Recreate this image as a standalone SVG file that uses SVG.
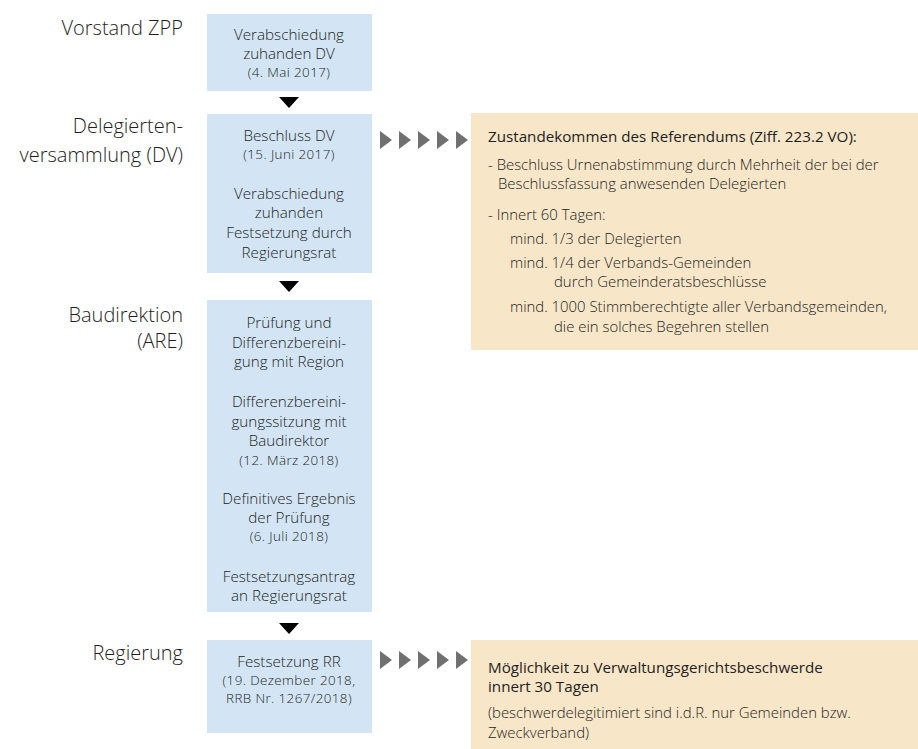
<svg xmlns="http://www.w3.org/2000/svg" width="918" height="749" viewBox="0 0 918 749">
<style>
text{font-family:"Open Sans","Noto Sans","DejaVu Sans",sans-serif;fill:#1e1e1e;font-weight:300}
.lab{font-size:20px;text-anchor:end}
.bx{font-size:15.2px;text-anchor:middle}
.sm{font-size:13.4px;text-anchor:middle;letter-spacing:0.4px}
.blue{fill:#d3e5f4}
.org{fill:#f8e6c8}
.ot{font-size:14.9px}
.oh{font-size:15.2px;font-weight:400}
.ga{fill:#707070}
</style>
<defs>
<polygon id="g" points="0,-9 12,0 0,9"/>
</defs>
<g id="lanes">
<text class="lab" x="183" y="35">Vorstand ZPP</text>
<text class="lab" x="183" y="133">Delegierten-</text>
<text class="lab" x="183" y="162">versammlung (DV)</text>
<text class="lab" x="183" y="322">Baudirektion</text>
<text class="lab" x="183" y="348">(ARE)</text>
<text class="lab" x="183" y="660">Regierung</text>
</g>
<g id="n1">
<rect class="blue" x="207" y="14" width="165" height="77"/>
<text class="bx" x="289" y="40">Verabschiedung</text>
<text class="bx" x="289" y="59">zuhanden DV</text>
<text class="sm" x="289" y="77">(4. Mai 2017)</text>
</g>
<g id="n2">
<rect class="blue" x="207" y="114" width="165" height="159"/>
<text class="bx" x="289" y="141">Beschluss DV</text>
<text class="sm" x="289" y="159">(15. Juni 2017)</text>
<text class="bx" x="289" y="199">Verabschiedung</text>
<text class="bx" x="289" y="218">zuhanden</text>
<text class="bx" x="289" y="238">Festsetzung durch</text>
<text class="bx" x="289" y="258">Regierungsrat</text>
</g>
<g id="n3">
<rect class="blue" x="207" y="300" width="165" height="312"/>
<text class="bx" x="289" y="328">Prüfung und</text>
<text class="bx" x="289" y="348">Differenzbereini-</text>
<text class="bx" x="289" y="367">gung mit Region</text>
<text class="bx" x="289" y="407">Differenzbereini-</text>
<text class="bx" x="289" y="427">gungssitzung mit</text>
<text class="bx" x="289" y="446">Baudirektor</text>
<text class="sm" x="289" y="465">(12. März 2018)</text>
<text class="bx" x="289" y="504">Definitives Ergebnis</text>
<text class="bx" x="289" y="523">der Prüfung</text>
<text class="sm" x="289" y="541">(6. Juli 2018)</text>
<text class="bx" x="289" y="582">Festsetzungsantrag</text>
<text class="bx" x="289" y="601">an Regierungsrat</text>
</g>
<g id="n4">
<rect class="blue" x="207" y="640" width="165" height="93"/>
<text class="bx" x="289" y="667">Festsetzung RR</text>
<text class="sm" x="289" y="685">(19. Dezember 2018,</text>
<text class="sm" x="289" y="703">RRB Nr. 1267/2018)</text>
</g>
<g id="n5">
<rect class="org" x="471" y="113" width="447" height="237"/>
<text class="oh" x="488" y="142">Zustandekommen des Referendums (Ziff. 223.2 VO):</text>
<text class="ot" x="488" y="170">- Beschluss Urnenabstimmung durch Mehrheit der bei der</text>
<text class="ot" x="498" y="189">Beschlussfassung anwesenden Delegierten</text>
<text class="ot" x="488" y="220">- Innert 60 Tagen:</text>
<text class="ot" x="510" y="244">mind. 1/3 der Delegierten</text>
<text class="ot" x="510" y="268">mind. 1/4 der Verbands-Gemeinden</text>
<text class="ot" x="554" y="287">durch Gemeinderatsbeschlüsse</text>
<text class="ot" x="510" y="312">mind. 1000 Stimmberechtigte aller Verbandsgemeinden,</text>
<text class="ot" x="554" y="332">die ein solches Begehren stellen</text>
</g>
<g id="n6">
<rect class="org" x="471" y="640" width="447" height="109"/>
<text class="oh" x="488" y="673">Möglichkeit zu Verwaltungsgerichtsbeschwerde</text>
<text class="oh" x="488" y="692">innert 30 Tagen</text>
<text class="ot" x="488" y="718">(beschwerdelegitimiert sind i.d.R. nur Gemeinden bzw.</text>
<text class="ot" x="488" y="738">Zweckverband)</text>
</g>
<g id="connectors">
<polygon points="279,97 299,97 289,108" fill="#000"/>
<polygon points="279,281 299,281 289,292" fill="#000"/>
<polygon points="279,623 299,623 289,634" fill="#000"/>
<g class="ga">
<use href="#g" x="380" y="140"/><use href="#g" x="399" y="140"/><use href="#g" x="418" y="140"/><use href="#g" x="437" y="140"/><use href="#g" x="456" y="140"/>
<use href="#g" x="380" y="660"/><use href="#g" x="399" y="660"/><use href="#g" x="418" y="660"/><use href="#g" x="437" y="660"/><use href="#g" x="456" y="660"/>
</g>
</g>
</svg>
